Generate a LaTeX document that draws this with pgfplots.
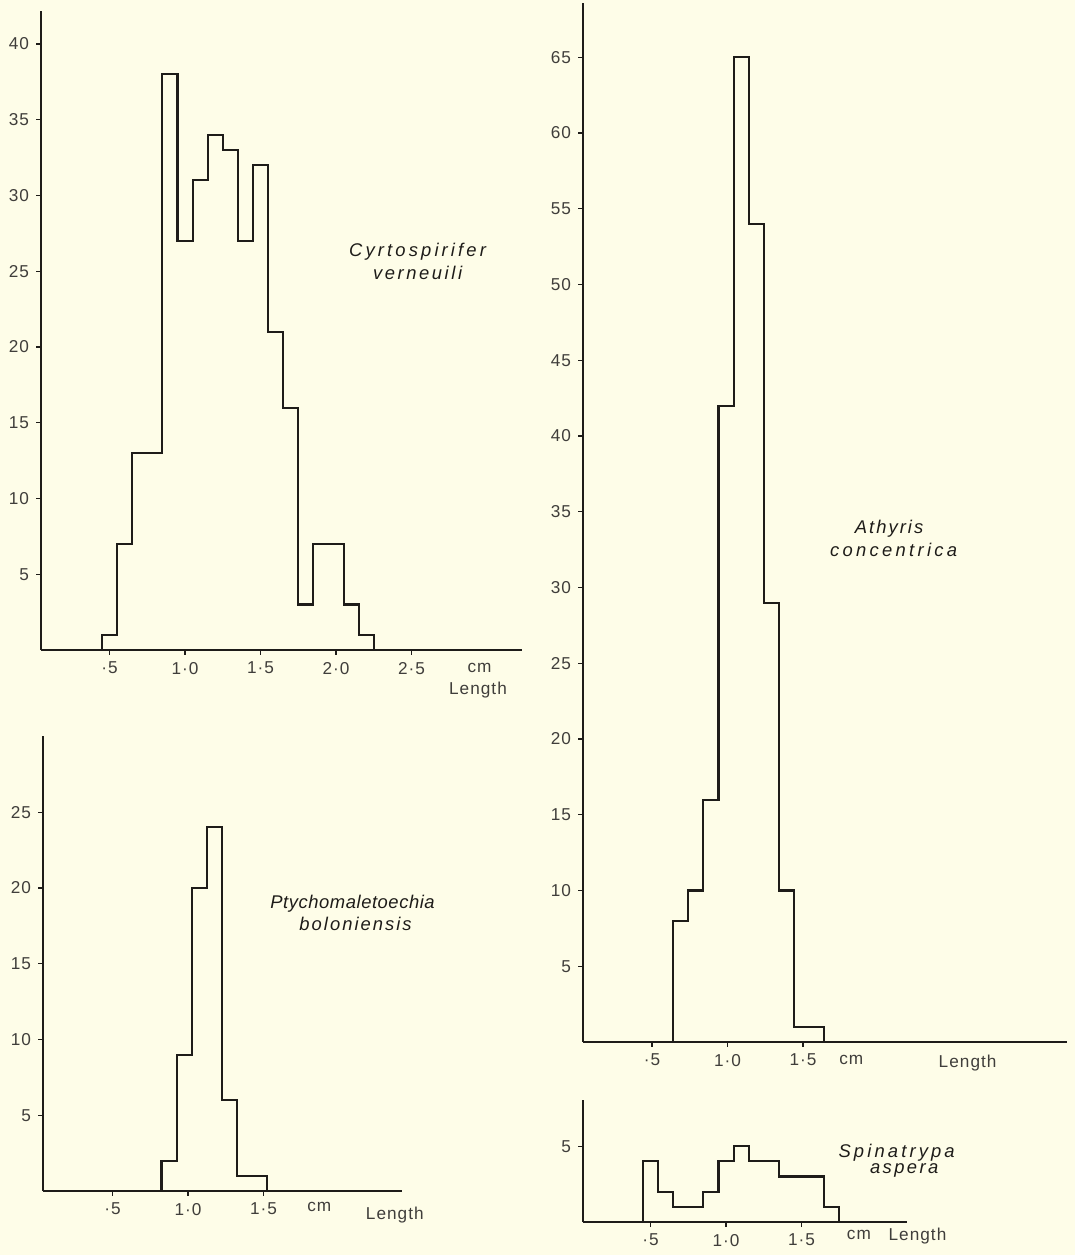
\documentclass[border=0pt]{standalone}
\usepackage{fontspec}
\setmainfont{Liberation Sans}[LetterSpace=6]
\newfontfamily\spfont{Liberation Sans}
\usepackage{pgfplots}
\pgfplotsset{compat=1.18}
\definecolor{paper}{RGB}{254,253,232}
\definecolor{ink}{RGB}{30,28,25}
\pgfplotsset{hist/.style={
  axis lines*=left, x=75.5bp, y=7.575bp, ymin=0, anchor=south west, clip=false,
  axis line style={ink, line width=1.4bp},
  tick style={ink, line width=0.7bp}, tick align=outside, major tick length=2.5bp,
  /pgf/number format/assume math mode=true,
  ticklabel style={font=\fontsize{8.6bp}{10bp}\selectfont, text=ink!85},
},
hl/.style={draw=ink, line width=1.05bp, const plot mark left, mark=none}}
\newcommand{\spname}[2]{{\spfont\itshape\fontsize{9.2bp}{10bp}\selectfont\addfontfeature{LetterSpace=#1}\color{ink}#2}}
\newcommand{\lb}{\fontsize{8.6bp}{10bp}\selectfont\color{ink!85}}
\begin{document}
\begin{tikzpicture}
\path[use as bounding box, fill=paper] (0,0) rectangle (537.5bp,627.5bp);
% Panel 1: Cyrtospirifer verneuili
\begin{axis}[hist, at={(20.5bp,302.5bp)}, xmin=0.046, xmax=3.23, ymax=42.2,
  xtick={0.5,1,1.5,2,2.5}, xticklabels={·5,1·0,1·5,2·0,2·5},
  ytick={5,10,...,40}]
\addplot[hl] table {
x y
0.45 0
0.45 1
0.55 7
0.65 13
0.75 13
0.85 38
0.95 27
1.05 31
1.15 34
1.25 33
1.35 27
1.45 32
1.55 21
1.65 16
1.75 3
1.85 7
1.95 7
2.05 3
2.15 1
2.25 0
};
\node[font=\lb] at (axis cs:2.95,-1.2) {cm};
\node[font=\lb] at (axis cs:2.94,-2.64) {Length};
\node at (axis cs:2.54,26.27) {\spname{17}{Cyrtospirifer}};
\node at (axis cs:2.54,24.88) {\spname{14}{verneuili}};
\end{axis}
% Panel 2: Ptychomaletoechia boloniensis
\begin{axis}[hist, at={(21.5bp,32bp)}, xmin=0.04, xmax=2.42, ymax=30,
  xtick={0.5,1,1.5}, xticklabels={·5,1·0,1·5},
  ytick={5,10,...,25}]
\addplot[hl] table {
x y
0.825 0
0.825 2
0.925 9
1.025 20
1.125 24
1.225 6
1.325 1
1.425 1
1.525 0
};
\node[font=\lb] at (axis cs:1.87,-1.06) {cm};
\node[font=\lb] at (axis cs:2.37,-1.58) {Length};
\node at (axis cs:2.09,18.95) {\spname{3}{Ptychomaletoechia}};
\node at (axis cs:2.11,17.6) {\spname{11}{boloniensis}};
\end{axis}
% Panel 3: Athyris concentrica
\begin{axis}[hist, at={(291.5bp,106.5bp)}, xmin=0.043, xmax=3.25, ymax=68.6,
  xtick={0.5,1,1.5}, xticklabels={·5,1·0,1·5},
  ytick={5,10,...,65}]
\addplot[hl] table {
x y
0.64 0
0.64 8
0.74 10
0.84 16
0.94 42
1.04 65
1.14 54
1.24 29
1.34 10
1.44 1
1.54 1
1.64 0
};
\node[font=\lb] at (axis cs:1.82,-1.19) {cm};
\node[font=\lb] at (axis cs:2.59,-1.39) {Length};
\node at (axis cs:2.07,33.85) {\spname{11}{Athyris}};
\node at (axis cs:2.10,32.5) {\spname{18}{concentrica}};
\end{axis}
% Panel 4: Spinatrypa aspera
\begin{axis}[hist, at={(291.5bp,16.5bp)}, xmin=0.053, xmax=2.2, ymax=8.05,
  xtick={0.5,1,1.5}, xticklabels={·5,1·0,1·5},
  ytick={5}]
\addplot[hl] table {
x y
0.45 0
0.45 4
0.55 2
0.65 1
0.75 1
0.85 2
0.95 4
1.05 5
1.15 4
1.25 4
1.35 3
1.45 3
1.55 3
1.65 1
1.75 0
};
\node[font=\lb] at (axis cs:1.88,-0.86) {cm};
\node[font=\lb, anchor=west] at (axis cs:2.03,-0.95) {Length};
\node at (axis cs:2.13,4.6) {\spname{17}{Spinatrypa}};
\node at (axis cs:2.18,3.4) {\spname{13}{aspera}};
\end{axis}
\end{tikzpicture}
\end{document}
